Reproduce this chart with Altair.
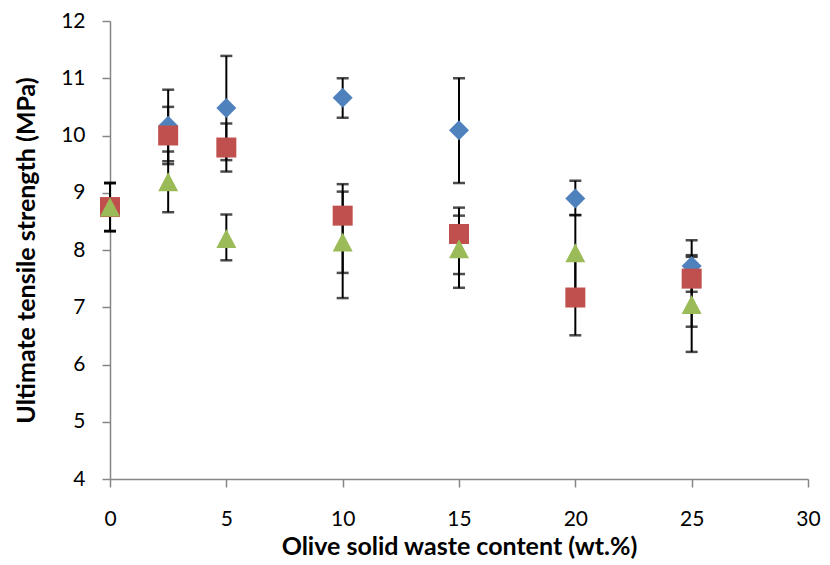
import altair as alt
import pandas as pd

x_vals = [0, 2.5, 5, 10, 15, 20, 25]

blue = [8.75, 10.17, 10.48, 10.66, 10.09, 8.90, 7.72]
blue_lo = [8.33, 9.55, 9.57, 10.31, 9.17, 8.61, 7.27]
blue_hi = [9.17, 10.80, 11.39, 11.00, 11.00, 9.21, 8.17]

red = [8.75, 10.00, 9.79, 8.60, 8.28, 7.17, 7.50]
red_lo = [8.33, 9.50, 9.37, 7.60, 7.34, 6.51, 6.66]
red_hi = [9.17, 10.50, 10.21, 9.15, 8.74, 7.83, 7.91]

green = [8.75, 9.19, 8.20, 8.14, 8.02, 7.95, 7.05]
green_lo = [8.33, 8.66, 7.82, 7.16, 7.58, 7.29, 6.22]
green_hi = [9.17, 9.72, 8.62, 9.02, 8.60, 8.61, 7.88]

x_ticks = [0, 5, 10, 15, 20, 25, 30]
y_ticks = [4, 5, 6, 7, 8, 9, 10, 11, 12]

series_names = ["Series1", "Series2", "Series3"]
series_colors = ["#4F81BD", "#C0504D", "#9BBB59"]
series_shapes = ["diamond", "square", "M0,-0.95L1,0.95L-1,0.95Z"]

rows = []
for name, v, lo, hi in zip(series_names, [blue, red, green], [blue_lo, red_lo, green_lo], [blue_hi, red_hi, green_hi]):
    for xi, vi, l, h in zip(x_vals, v, lo, hi):
        rows.append({"x": xi, "y": vi, "lo": l, "hi": h, "s": name})
df = pd.DataFrame(rows)

FONT = "Lato"

xscale = alt.Scale(domain=[0, 30], nice=False)
yscale = alt.Scale(domain=[4, 12], nice=False)

xax = alt.Axis(values=x_ticks, format="d", title="Olive solid waste content (wt.%)",
               labelPadding=21, titlePadding=5, labelFlush=False)
yax = alt.Axis(values=y_ticks, format="d", title="Ultimate tensile strength (MPa)",
               labelPadding=17, titlePadding=21, labelFlush=False)

base = alt.Chart(df)

rules = base.mark_rule(color="black", strokeWidth=2).encode(
    x=alt.X("x:Q", scale=xscale, axis=xax),
    y=alt.Y("lo:Q", scale=yscale, axis=yax),
    y2="hi:Q",
)
cap_lo = base.mark_tick(color="black", orient="horizontal", size=12, thickness=2.5).encode(
    x=alt.X("x:Q", scale=xscale),
    y=alt.Y("lo:Q", scale=yscale),
)
cap_hi = base.mark_tick(color="black", orient="horizontal", size=12, thickness=2.5).encode(
    x=alt.X("x:Q", scale=xscale),
    y=alt.Y("hi:Q", scale=yscale),
)
points = base.mark_point(filled=True, opacity=1, size=400).encode(
    x=alt.X("x:Q", scale=xscale),
    y=alt.Y("y:Q", scale=yscale),
    color=alt.Color("s:N", scale=alt.Scale(domain=series_names, range=series_colors), legend=None),
    shape=alt.Shape("s:N", scale=alt.Scale(domain=series_names, range=series_shapes), legend=None),
)

chart = alt.layer(rules, cap_lo, cap_hi, points).properties(
    width=698,
    height=458,
    padding={"left": 102, "top": 13, "right": 14, "bottom": 84},
    autosize=alt.AutoSizeParams(type="none"),
).configure_view(stroke=None).configure_axis(
    grid=False,
    domainColor="#868686",
    domainWidth=1.5,
    tickColor="#868686",
    tickWidth=1.5,
    tickSize=8,
    labelFont=FONT,
    labelFontSize=21,
    labelColor="black",
    titleFont=FONT,
    titleFontSize=25,
    titleFontWeight="bold",
    titleColor="black",
)

chart.save("out.html", embed_options={"renderer": "svg", "actions": False})
